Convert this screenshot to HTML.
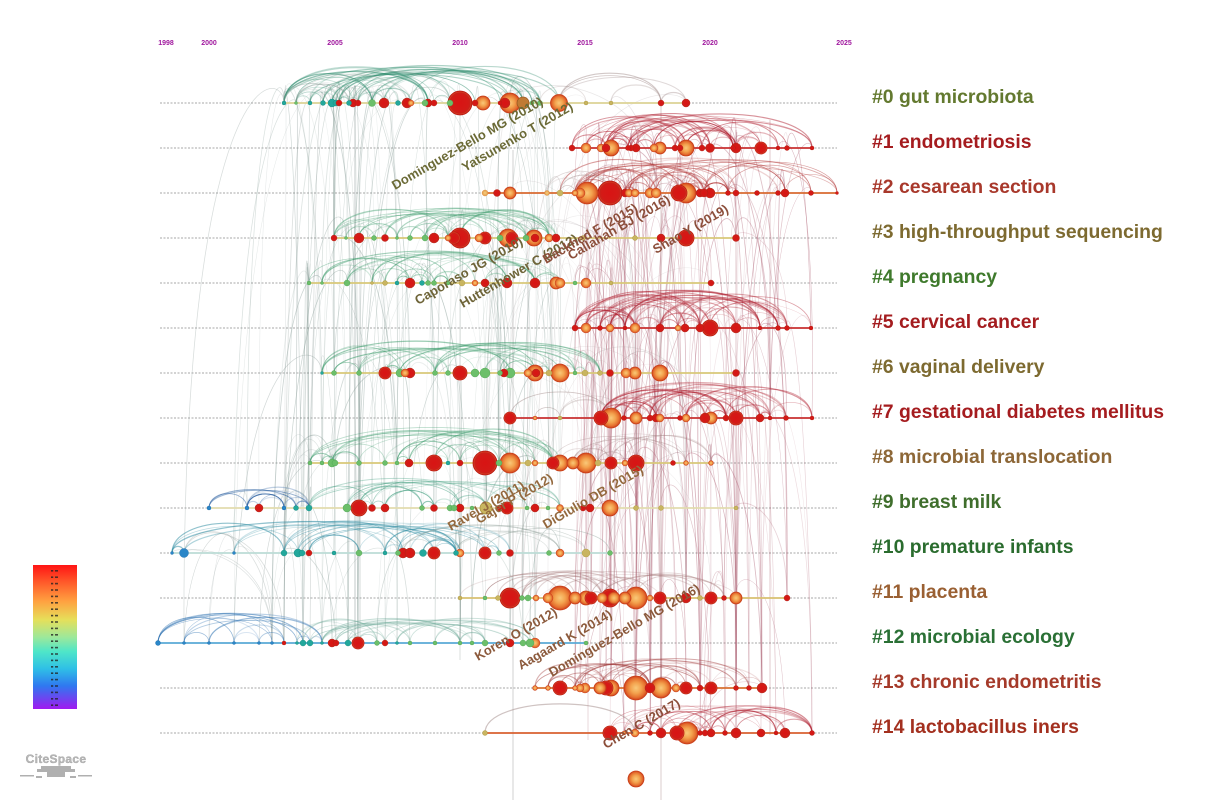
<!DOCTYPE html>
<html>
<head>
<meta charset="utf-8">
<style>
html,body{margin:0;padding:0;background:#ffffff;}
body{width:1210px;height:803px;overflow:hidden;}
svg{display:block;}
text{font-family:"Liberation Sans",Arial,sans-serif;}
</style>
</head>
<body>
<svg id="chart" width="1210" height="803" viewBox="0 0 1210 803" xmlns="http://www.w3.org/2000/svg">
<defs>
<radialGradient id="gO" cx="50%" cy="50%" r="50%">
<stop offset="0%" stop-color="#f9c879"/>
<stop offset="45%" stop-color="#f3a24e"/>
<stop offset="80%" stop-color="#e5702f"/>
<stop offset="100%" stop-color="#cf3e1c"/>
</radialGradient>
<radialGradient id="gR" cx="50%" cy="50%" r="50%">
<stop offset="0%" stop-color="#d81414"/>
<stop offset="70%" stop-color="#d41a16"/>
<stop offset="100%" stop-color="#c0281c"/>
</radialGradient>
<radialGradient id="gY" cx="50%" cy="50%" r="50%">
<stop offset="0%" stop-color="#f6d080"/>
<stop offset="100%" stop-color="#e49a4a"/>
</radialGradient>
<linearGradient id="legend" x1="0" y1="0" x2="0" y2="1">
<stop offset="0%" stop-color="#ff1414"/>
<stop offset="12%" stop-color="#ff5a2a"/>
<stop offset="25%" stop-color="#ffa040"/>
<stop offset="38%" stop-color="#e6df5a"/>
<stop offset="50%" stop-color="#9ee89a"/>
<stop offset="60%" stop-color="#4fe6c8"/>
<stop offset="72%" stop-color="#2fc0e6"/>
<stop offset="84%" stop-color="#2f78f0"/>
<stop offset="100%" stop-color="#a01af0"/>
</linearGradient>
</defs>

<g id="dotted"></g>
<g id="links"></g>
<g id="arcs"></g>
<g id="segs"></g>
<g id="nodes"></g>

<!-- year axis -->
<g font-size="7" font-weight="bold" fill="#a0189e" text-anchor="middle">
<text x="166" y="45">1998</text>
<text x="209" y="45">2000</text>
<text x="335" y="45">2005</text>
<text x="460" y="45">2010</text>
<text x="585" y="45">2015</text>
<text x="710" y="45">2020</text>
<text x="844" y="45">2025</text>
</g>

<!-- author labels -->
<g font-size="13" font-weight="bold">
<text transform="translate(395,190) rotate(-30)" fill="#6b6a36">Dominguez-Bello MG (2010)</text>
<text transform="translate(465,172) rotate(-30)" fill="#6b6a36">Yatsunenko T (2012)</text>
<text transform="translate(418,305) rotate(-30)" fill="#6e6438">Caporaso JG (2010)</text>
<text transform="translate(463,308) rotate(-30)" fill="#6e6438">Huttenhower C (2012)</text>
<text transform="translate(546,264) rotate(-30)" fill="#8c4e3a">Backhed F (2015)</text>
<text transform="translate(571,260) rotate(-30)" fill="#8c4e3a">Callahan BJ (2016)</text>
<text transform="translate(656,254) rotate(-30)" fill="#8c4e3a">Shao Y (2019)</text>
<text transform="translate(451,531) rotate(-30)" fill="#94693e">Ravel J (2011)</text>
<text transform="translate(479,524) rotate(-30)" fill="#94693e">Gajer P (2012)</text>
<text transform="translate(546,529) rotate(-30)" fill="#94693e">DiGiulio DB (2015)</text>
<text transform="translate(478,661) rotate(-30)" fill="#8c5a3c">Koren O (2012)</text>
<text transform="translate(521,670) rotate(-30)" fill="#8c5a3c">Aagaard K (2014)</text>
<text transform="translate(552,677) rotate(-30)" fill="#8c5a3c">Dominguez-Bello MG (2016)</text>
<text transform="translate(606,749) rotate(-30)" fill="#8c4e3a">Chen C (2017)</text>
</g>

<!-- cluster labels -->
<g font-size="19.4" font-weight="bold">
<text x="872" y="103" fill="#63792f">#0 gut microbiota</text>
<text x="872" y="148" fill="#a51c1f">#1 endometriosis</text>
<text x="872" y="193" fill="#a8382b">#2 cesarean section</text>
<text x="872" y="238" fill="#7d6a30">#3 high-throughput sequencing</text>
<text x="872" y="283" fill="#3f7a2c">#4 pregnancy</text>
<text x="872" y="328" fill="#a41c1f">#5 cervical cancer</text>
<text x="872" y="373" fill="#7d6a30">#6 vaginal delivery</text>
<text x="872" y="418" fill="#a51c1f">#7 gestational diabetes mellitus</text>
<text x="872" y="463" fill="#8d6737">#8 microbial translocation</text>
<text x="872" y="508" fill="#3f6e2c">#9 breast milk</text>
<text x="872" y="553" fill="#2a6c2e">#10 premature infants</text>
<text x="872" y="598" fill="#9a6033">#11 placenta</text>
<text x="872" y="643" fill="#2a7035">#12 microbial ecology</text>
<text x="872" y="688" fill="#a53a2a">#13 chronic endometritis</text>
<text x="872" y="733" fill="#a3301f">#14 lactobacillus iners</text>
</g>

<!-- legend -->
<rect x="33" y="565" width="44" height="144" fill="url(#legend)"/>
<g id="legendmarks"></g>

<!-- CiteSpace logo -->
<text x="56" y="763" font-size="12" font-weight="bold" fill="#b8b8b8" text-anchor="middle" stroke="#9a9a9a" stroke-width="0.3" letter-spacing="0.3">CiteSpace</text>
<g fill="#b0b0b0">
<rect x="37" y="769" width="38" height="3"/>
<rect x="41" y="766" width="30" height="3"/>
<rect x="47" y="772" width="18" height="5"/>
<rect x="20" y="775" width="14" height="1.5"/>
<rect x="78" y="775" width="14" height="1.5"/>
<rect x="36" y="776" width="6" height="2"/>
<rect x="70" y="776" width="6" height="2"/>
</g>
</svg>

<script>
(function(){
var NS="http://www.w3.org/2000/svg";
function el(tag,attrs,parent){var e=document.createElementNS(NS,tag);for(var k in attrs)e.setAttribute(k,attrs[k]);parent.appendChild(e);return e;}
function mulberry32(a){return function(){a|=0;a=a+0x6D2B79F5|0;var t=Math.imul(a^a>>>15,1|a);t=t+Math.imul(t^t>>>7,61|t)^t;return((t^t>>>14)>>>0)/4294967296;};}
var rnd=mulberry32(12345);

var ROWS=[
{y:103,seg:[283,686,'#dcd394'],nodes:[[284,2,'T'],[296,1.5,'G'],[310,2,'T'],[323,2.5,'T'],[332,4,'T'],[336,3,'T'],[339,3,'R'],[349,2.5,'T'],[353,4,'R'],[358,3,'R'],[372,3.5,'G'],[384,5,'R'],[398,2.5,'T'],[407,5,'R'],[411,3,'O'],[425,3,'G'],[428,4,'R'],[434,3,'R'],[450,3,'G'],[460,12,'R'],[475,3,'R'],[483,7,'O'],[500,2,'R'],[505,5,'R'],[510,10,'O'],[523,6,'Br'],[532,2,'G'],[540,2.5,'G'],[559,8.5,'O'],[586,2,'K'],[611,2,'K'],[661,3,'R'],[686,4,'R']],
 arcs:[[284,560,45,'#2a8a6a',38],[284,470,12,'#8a9a94',34],[540,690,7,'#a08a88',30]]},
{y:148,seg:[572,812,'#c83030'],nodes:[[572,3,'R'],[586,5,'O'],[601,4,'O'],[606,4,'R'],[611,8,'O'],[628,2.5,'R'],[631,3,'R'],[636,4,'R'],[654,4,'O'],[660,6,'O'],[675,3,'R'],[680,3,'R'],[686,8,'O'],[702,3,'R'],[710,4.5,'R'],[733,2.5,'R'],[736,5,'R'],[761,6,'R'],[778,2,'R'],[787,2.5,'R'],[812,2,'R']],
 arcs:[[572,812,60,'#b02030',35]]},
{y:193,seg:[484,837,'#d86a30'],nodes:[[485,3,'Y'],[497,3.5,'R'],[510,6,'O'],[547,2.5,'Y'],[560,3,'K'],[575,3,'O'],[580,5,'O'],[587,11,'O'],[610,12,'R'],[625,4,'R'],[629,4,'O'],[635,4,'O'],[650,5,'O'],[656,5,'O'],[679,8,'R'],[686,10,'O'],[700,4,'R'],[704,4,'R'],[710,5,'R'],[728,2.5,'R'],[736,3,'R'],[757,2.5,'R'],[778,2.5,'R'],[785,4,'R'],[811,2.5,'R'],[837,1.5,'R']],
 arcs:[[560,837,50,'#b03030',35],[485,620,6,'#a08a88',30]]},
{y:238,seg:[333,736,'#d8c878'],nodes:[[334,3,'R'],[346,1.5,'G'],[359,5,'R'],[374,2.5,'G'],[385,3.5,'R'],[397,1.5,'G'],[410,2.5,'G'],[425,3,'G'],[434,5,'R'],[448,3,'O'],[454,6,'R'],[460,10,'R'],[479,4,'O'],[485,6,'R'],[500,3,'G'],[508,9,'O'],[512,6,'R'],[526,3,'G'],[534,8,'O'],[535,4,'R'],[549,4,'O'],[556,4,'R'],[583,2.5,'K'],[635,2.5,'K'],[661,4,'R'],[686,8,'R'],[736,3.5,'R']],
 arcs:[[334,560,35,'#3a9a6a',30]]},
{y:283,seg:[310,711,'#d8c878'],nodes:[[309,2,'G'],[322,1.5,'G'],[347,3,'G'],[372,1.5,'K'],[385,2.5,'K'],[397,2,'T'],[410,5,'R'],[422,2.5,'T'],[428,2.5,'G'],[434,2.5,'G'],[448,2,'G'],[462,3,'K'],[475,3,'O'],[485,4,'R'],[507,5,'R'],[535,5,'R'],[556,6,'O'],[560,5,'O'],[575,2,'G'],[586,5,'O'],[611,2,'K'],[711,3,'R']],
 arcs:[[309,565,30,'#3a9a6a',32]]},
{y:328,seg:[572,812,'#c83030'],nodes:[[575,3,'R'],[586,5,'O'],[600,2.5,'R'],[610,4,'O'],[625,2,'R'],[635,5,'O'],[660,4,'R'],[678,3,'O'],[685,4,'R'],[700,4,'R'],[710,8,'R'],[736,5,'R'],[760,2,'R'],[778,2.5,'R'],[787,2.5,'R'],[811,2,'R']],
 arcs:[[575,812,60,'#b02030',38]]},
{y:373,seg:[322,736,'#d8c878'],nodes:[[322,1.5,'T'],[334,2.5,'G'],[359,2.5,'G'],[385,6,'R'],[400,4,'G'],[405,4,'O'],[410,5,'R'],[435,2.5,'G'],[448,2.5,'G'],[460,7,'R'],[475,4,'G'],[485,5,'G'],[500,2.5,'G'],[504,4,'R'],[510,5,'G'],[528,4,'O'],[535,8,'O'],[536,4,'R'],[549,3,'K'],[560,9,'O'],[575,2,'G'],[585,3,'K'],[600,2.5,'K'],[610,3.5,'R'],[626,5,'O'],[635,6,'O'],[660,8,'O'],[736,3.5,'R']],
 arcs:[[322,600,35,'#3a9a6a',32]]},
{y:418,seg:[510,812,'#c83030'],nodes:[[510,6,'R'],[535,2,'O'],[560,2,'K'],[601,7,'R'],[611,10,'O'],[624,2.5,'R'],[636,6,'O'],[650,3,'R'],[656,4,'R'],[660,4,'O'],[680,2.5,'R'],[686,4,'O'],[705,5,'R'],[711,6,'O'],[726,3,'R'],[736,7,'R'],[760,4,'R'],[770,2,'R'],[786,2.5,'R'],[812,2,'R']],
 arcs:[[600,812,50,'#b02030',36],[510,640,5,'#a08a88',30]]},
{y:463,seg:[310,711,'#d8c878'],nodes:[[310,2,'G'],[322,2,'G'],[332,4,'G'],[335,3,'G'],[359,2.5,'G'],[385,2.5,'G'],[397,2,'G'],[409,4,'R'],[434,8,'R'],[448,2,'T'],[460,3,'R'],[485,12,'R'],[499,3,'G'],[510,10,'O'],[528,3,'K'],[535,3,'O'],[553,6,'R'],[560,8,'O'],[573,6,'O'],[586,10,'O'],[598,3,'K'],[611,6,'R'],[625,3,'O'],[636,8,'R'],[673,2.5,'R'],[686,2.5,'O'],[711,2.5,'O']],
 arcs:[[310,565,35,'#3a9a6a',36],[540,711,10,'#a08080',30]]},
{y:508,seg:[207,736,'#e2dcae'],nodes:[[209,2,'B'],[247,2,'B'],[259,4,'R'],[284,2,'B'],[296,2.5,'T'],[309,3,'T'],[347,4,'G'],[359,8,'R'],[372,3.5,'R'],[385,4,'R'],[422,2.5,'G'],[434,3.5,'R'],[450,3,'G'],[454,3,'G'],[460,4,'R'],[472,2,'G'],[486,6,'K'],[500,3,'R'],[507,6,'R'],[527,2,'G'],[535,4,'R'],[548,2,'G'],[560,3.5,'O'],[583,3,'R'],[590,4,'R'],[610,8,'O'],[636,2.5,'K'],[661,2.5,'K'],[736,2,'K']],
 arcs:[[209,312,18,'#2a5fa0',22],[300,565,30,'#3a9a7a',30]]},
{y:553,seg:[172,612,'#bcdcd6'],nodes:[[172,1.5,'B'],[184,4.5,'B'],[234,1.5,'B'],[284,3,'T'],[298,4,'T'],[302,3,'T'],[309,3,'R'],[334,2,'T'],[359,3,'G'],[385,2,'T'],[398,2.5,'G'],[403,5,'R'],[410,5,'R'],[423,3.5,'T'],[434,6,'R'],[456,2.5,'T'],[460,4,'O'],[485,6,'R'],[499,2.5,'G'],[510,3.5,'R'],[549,2.5,'G'],[560,4,'O'],[586,4,'K'],[610,2.5,'G']],
 arcs:[[172,520,35,'#2a8aa0',32],[400,612,8,'#8a9a94',28]]},
{y:598,seg:[460,787,'#d8c070'],nodes:[[460,2,'K'],[485,2,'G'],[498,2.5,'K'],[510,10,'R'],[522,2.5,'G'],[528,3,'G'],[536,3,'O'],[548,5,'O'],[560,12,'O'],[575,6,'O'],[586,7,'O'],[591,6,'R'],[602,5,'O'],[610,9,'R'],[614,6,'O'],[625,6,'O'],[636,11,'O'],[650,3,'O'],[660,6,'R'],[686,5,'R'],[700,2.5,'K'],[711,6,'R'],[724,2.5,'R'],[736,6,'O'],[787,3,'R']],
 arcs:[[460,787,25,'#a07272',28]]},
{y:643,seg:[158,587,'#5aaad6'],nodes:[[158,2.5,'B'],[184,1.5,'B'],[209,1.5,'B'],[234,1.5,'B'],[259,1.5,'B'],[272,1.5,'B'],[284,2,'R'],[297,1.5,'T'],[303,3,'T'],[310,3,'T'],[322,1.5,'T'],[332,4,'R'],[336,3,'R'],[348,3,'T'],[358,6,'R'],[377,2.5,'G'],[385,3,'R'],[397,1.5,'T'],[410,2,'G'],[435,2,'G'],[460,2,'G'],[472,2,'G'],[485,3,'G'],[510,4,'R'],[523,3,'G'],[530,4,'G'],[535,5,'O'],[586,2,'G']],
 arcs:[[158,330,18,'#2a6fb0',30],[290,565,30,'#6aa896',25]]},
{y:688,seg:[535,762,'#d87030'],nodes:[[535,2.5,'O'],[548,2.5,'O'],[560,7,'R'],[575,2.5,'O'],[580,4,'O'],[585,5,'O'],[600,6,'O'],[606,7,'R'],[611,8,'O'],[636,12,'O'],[650,5,'R'],[661,10,'O'],[676,4,'O'],[686,6,'R'],[700,3,'R'],[711,6,'R'],[736,2.5,'R'],[749,2.5,'R'],[762,5,'R']],
 arcs:[[535,762,30,'#a03838',30]]},
{y:733,seg:[485,812,'#d86030'],nodes:[[485,2.5,'K'],[610,7,'R'],[624,2,'O'],[635,4,'O'],[650,2.5,'R'],[661,5,'R'],[677,7,'R'],[687,11,'O'],[700,2.5,'R'],[705,3,'R'],[711,4,'R'],[725,2.5,'R'],[736,5,'R'],[761,4,'R'],[776,2,'R'],[785,5,'R'],[812,2.5,'R']],
 arcs:[[610,812,40,'#b02030',28],[485,650,2,'#a08a88',32]]}
];

var gDot=document.getElementById('dotted'),gLinks=document.getElementById('links'),gArcs=document.getElementById('arcs'),gSegs=document.getElementById('segs'),gNodes=document.getElementById('nodes');

ROWS.forEach(function(r){
  el('line',{x1:160,y1:r.y,x2:837,y2:r.y,stroke:'#8a8a8a','stroke-width':0.8,'stroke-dasharray':'2,1.5'},gDot);
});

function pick(arr){return arr[Math.floor(rnd()*arr.length)];}

function addLinks(rowIdx,xmin,xmax,count,color,opMin,opMax,maxDx){
  var pool=[];
  rowIdx.forEach(function(i){ROWS[i].nodes.forEach(function(n){if(n[0]>=xmin&&n[0]<=xmax)pool.push([n[0],ROWS[i].y,i]);});});
  for(var k=0;k<count;k++){
    var a=pick(pool),b=null,tries=0;
    while(tries<40){var c=pick(pool);if(c[2]!==a[2]&&Math.abs(c[0]-a[0])<=maxDx){b=c;break;}tries++;}
    if(!b)continue;
    var top=Math.min(a[1],b[1])-(8+rnd()*40);
    var d='M'+a[0]+','+a[1]+' C'+(a[0]+(rnd()-0.5)*10)+','+top+' '+(b[0]+(rnd()-0.5)*10)+','+top+' '+b[0]+','+b[1];
    el('path',{d:d,fill:'none',stroke:color,'stroke-width':(0.4+rnd()*0.5).toFixed(2),'stroke-opacity':(opMin+rnd()*(opMax-opMin)).toFixed(2)},gLinks);
  }
}
addLinks([0,3,4,6,8,9,10,12],230,565,190,'#7f9690',0.14,0.42,70);
addLinks([0,3,4,6,8,9,10,12],160,330,25,'#8a9896',0.18,0.4,110);
addLinks([1,2,3,4,5,6,7,8,9,11,13,14],575,815,230,'#a8566a',0.15,0.45,60);
addLinks([0,2,3,4,6,8,9,11,12],480,720,50,'#a09496',0.12,0.32,160);

[[355,85,640,'#7a8a86',0.5],[360,250,643,'#7a8a86',0.35],[460,105,660,'#7a8a86',0.3],[513,150,800,'#9a9a9a',0.5],[661,100,800,'#b09090',0.5],[736,130,740,'#a05060',0.35],[770,120,735,'#a05060',0.35],[588,150,740,'#a05060',0.25]].forEach(function(v){
  el('line',{x1:v[0],y1:v[1],x2:v[0],y2:v[2],stroke:v[3],'stroke-width':0.9,'stroke-opacity':v[4]},gLinks);
});

ROWS.forEach(function(r){
  r.arcs.forEach(function(a){
    var pool=r.nodes.filter(function(n){return n[0]>=a[0]&&n[0]<=a[1];});
    if(pool.length<2)return;
    for(var k=0;k<a[2];k++){
      var n1=pick(pool),n2=pick(pool);
      var x1=Math.min(n1[0],n2[0]),x2=Math.max(n1[0],n2[0]);
      if(x2-x1<8){continue;}
      var h=Math.min(a[4]*(0.75+rnd()*0.25),(x2-x1)*0.3+3);
      var cy=r.y-h*4/3;
      var d='M'+x1+','+r.y+' C'+x1+','+cy.toFixed(1)+' '+x2+','+cy.toFixed(1)+' '+x2+','+r.y;
      el('path',{d:d,fill:'none',stroke:a[3],'stroke-width':(0.5+rnd()*0.8).toFixed(2),'stroke-opacity':(0.14+rnd()*0.38).toFixed(2)},gArcs);
    }
  });
});

ROWS.forEach(function(r){
  el('line',{x1:r.seg[0],y1:r.y,x2:r.seg[1],y2:r.y,stroke:r.seg[2],'stroke-width':1.8},gSegs);
});

var FILL={R:'url(#gR)',O:'url(#gO)',Y:'url(#gY)',G:'#6cbf6a',T:'#22a89c',K:'#c9b560',B:'#2a86c8',Br:'#c07a34'};
var STROKE={R:'#b8160f',O:'#c8401a',Y:'#d88a3a',G:'#4aa050',T:'#15887e',K:'#a8943e',B:'#1a6aa8',Br:'#9a5a20'};
function drawNode(x,y,r,c){
  el('circle',{cx:x,cy:y,r:r,fill:FILL[c],stroke:STROKE[c],'stroke-width':r>5?0.8:0.4},gNodes);
  if(c==='R'&&r>=6){el('circle',{cx:x,cy:y,r:r*0.92,fill:'none',stroke:'#e04a2a','stroke-width':0.8,'stroke-opacity':0.6},gNodes);}
}
ROWS.forEach(function(r){
  var sorted=r.nodes.slice().sort(function(a,b){return b[1]-a[1];});
  sorted.forEach(function(n){drawNode(n[0],r.y,n[1],n[2]);});
});
drawNode(636,779,8,'O');

var lm=document.getElementById('legendmarks');
for(var i=0;i<22;i++){
  var yy=570+i*6.4;
  el('rect',{x:51,y:yy,width:2.2,height:1.6,fill:'#222','fill-opacity':0.8},lm);
  el('rect',{x:55,y:yy,width:3,height:1.6,fill:'#222','fill-opacity':0.75},lm);
}
})();
</script>
</body>
</html>
